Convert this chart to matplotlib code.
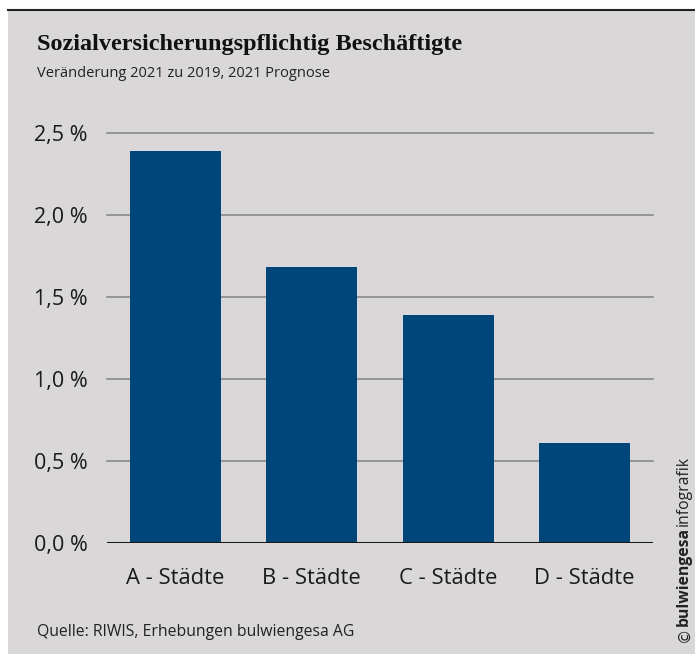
import matplotlib.pyplot as plt

# Data
categories = ["A - Städte", "B - Städte", "C - Städte", "D - Städte"]
values = [2.39, 1.68, 1.39, 0.61]
yticks = [0.0, 0.5, 1.0, 1.5, 2.0, 2.5]
ytick_labels = ["0,0 %", "0,5 %", "1,0 %", "1,5 %", "2,0 %", "2,5 %"]

bg = "#d9d7d8"
bar_color = "#00467a"

fig = plt.figure(figsize=(6.95, 6.54), dpi=100)
fig.patch.set_facecolor("white")

# grey panel and top rule
panel = fig.add_axes([8 / 695, 0, 1 - 8 / 695, 1 - 10 / 654], zorder=-10)
panel.set_facecolor(bg)
panel.set_xticks([])
panel.set_yticks([])
for s in panel.spines.values():
    s.set_visible(False)
fig.add_artist(plt.Line2D([8 / 695, 1], [1 - 10 / 654, 1 - 10 / 654], transform=fig.transFigure,
                          color="#222222", linewidth=1.5))

ax = fig.add_axes([107 / 695, 111 / 654, 546 / 695, 410 / 654])
ax.set_facecolor("none")

ax.bar(range(len(categories)), values, width=0.667, color=bar_color, zorder=3)
ax.set_xlim(-0.5, len(categories) - 0.5)
ax.set_ylim(0, 2.5)

ax.set_yticks(yticks)
ax.set_yticklabels(ytick_labels, fontfamily="Open Sans", fontsize=15.5, color="#1a1a1a")
ax.set_xticks(range(len(categories)))
ax.set_xticklabels(categories, fontfamily="Open Sans", fontsize=15.8, color="#1a1a1a")
ax.tick_params(axis="y", length=0, pad=14)
ax.tick_params(axis="x", length=0, pad=18)

for y in yticks[1:]:
    ax.axhline(y, color="#8a8a8a", linewidth=1.2, zorder=1, clip_on=False)
ax.axhline(0, color="#1a1a1a", linewidth=1.5, zorder=4)

for s in ax.spines.values():
    s.set_visible(False)

fig.text(37 / 695, 1 - 50 / 654, "Sozialversicherungspflichtig Beschäftigte",
         fontfamily="Liberation Serif", fontweight="bold", fontsize=17.5, color="#111111",
         va="baseline", ha="left")
fig.text(37 / 695, 1 - 77 / 654, "Veränderung 2021 zu 2019, 2021 Prognose",
         fontfamily="Open Sans", fontsize=10.5, color="#222222", va="baseline", ha="left")
fig.text(37 / 695, 1 - 636 / 654, "Quelle: RIWIS, Erhebungen bulwiengesa AG",
         fontfamily="Open Sans", fontsize=11.3, color="#222222", va="baseline", ha="left")

# vertical brand label
fig.text(684 / 695, 1 - 642 / 654, "©", fontfamily="DejaVu Sans", fontsize=11,
         rotation=90, ha="center", va="bottom", color="#222222")
fig.text(684 / 695, 1 - 626 / 654, "bulwiengesa", fontfamily="Open Sans", fontweight="bold",
         fontsize=11.3, rotation=90, ha="center", va="bottom", color="#222222")
fig.text(684 / 695, 1 - 526 / 654, "infografik", fontfamily="Open Sans",
         fontsize=11.3, rotation=90, ha="center", va="bottom", color="#222222")

fig.savefig("out.png", dpi=100, facecolor=fig.get_facecolor())
